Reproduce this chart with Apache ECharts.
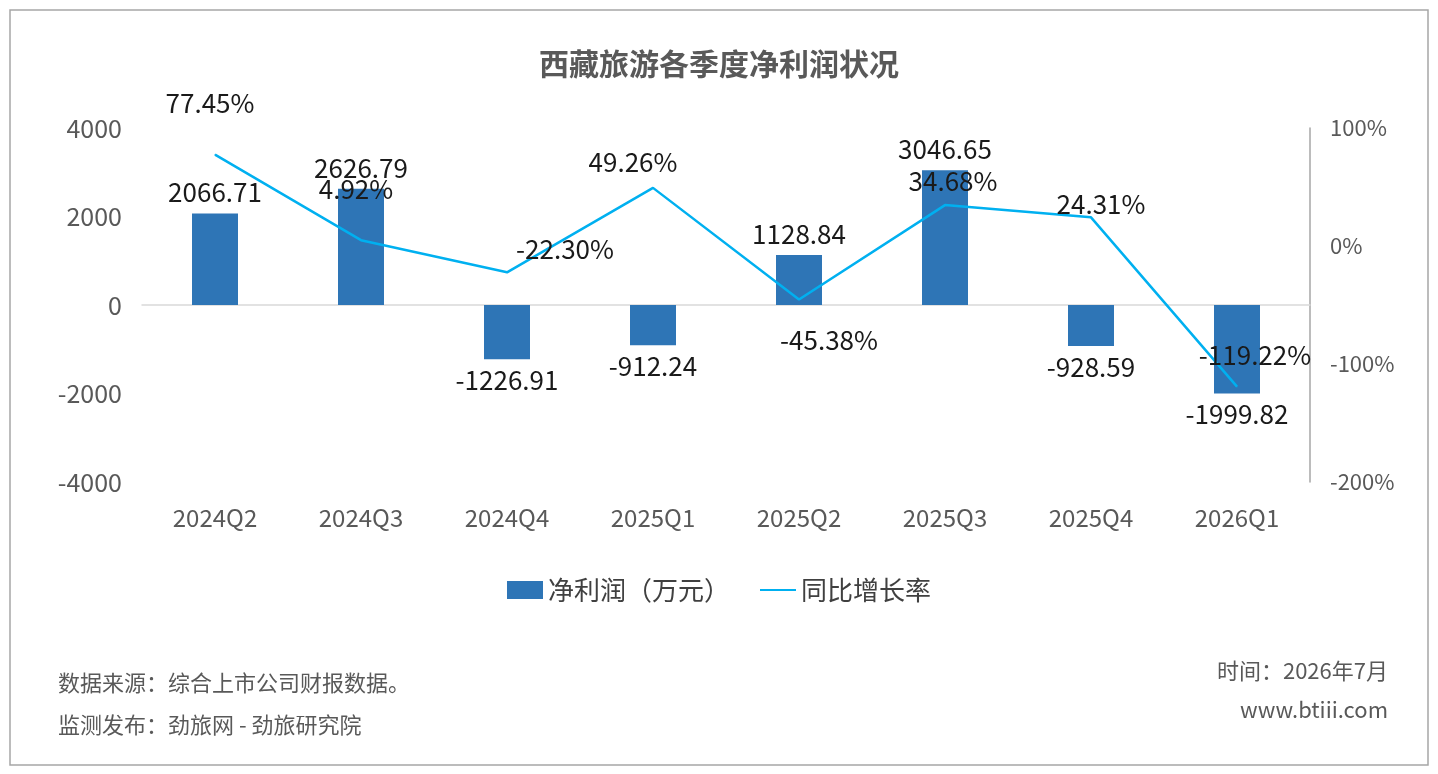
<!DOCTYPE html>
<html><head><meta charset="utf-8">
<script src="https://cdn.jsdelivr.net/npm/echarts@6/dist/echarts.min.js"></script>
<style>html,body{margin:0;padding:0;background:#fff}#c{width:1438px;height:774px}</style>
</head><body><div id="c"></div>
<script>
const categories=['2024Q2','2024Q3','2024Q4','2025Q1','2025Q2','2025Q3','2025Q4','2026Q1'];
const profit=[2066.71,2626.79,-1226.91,-912.24,1128.84,3046.65,-928.59,-1999.82];
const growth=[77.45,4.92,-22.30,49.26,-45.38,34.68,24.31,-119.22];
const lineLabelOffsets=[[-5,-38],[-5,-38],[58,-10],[-20,-12],[30,54],[8,-10],[10,-0],[18,-18]];
const F='"Noto Sans CJK SC","Noto Sans",sans-serif';
const chart=echarts.init(document.getElementById('c'));
chart.setOption({
  animation:false,
  textStyle:{fontFamily:F},
  title:{text:'西藏旅游各季度净利润状况',left:'center',top:44,textStyle:{fontSize:30,fontWeight:'bold',color:'#595959',fontFamily:F}},
  grid:{left:142,right:128,top:128,bottom:292},
  legend:{bottom:166,left:'center',itemWidth:36,itemHeight:18,itemGap:30,textStyle:{fontSize:26,color:'#404040'},
    data:[{name:'净利润（万元）',icon:'rect'},{name:'同比增长率',icon:'path://M0,8 L36,8 L36,10 L0,10 Z'}]},
  xAxis:{type:'category',data:categories,axisTick:{show:false},axisLine:{lineStyle:{color:'#d9d9d9',width:1.5}},
    axisLabel:{fontSize:24,color:'#595959',margin:24}},
  yAxis:[
    {type:'value',min:-4000,max:4000,interval:2000,splitLine:{show:false},axisLine:{show:false},axisTick:{show:false},
      axisLabel:{fontSize:25,color:'#595959',margin:20,formatter:v=>String(v)}},
    {type:'value',min:-200,max:100,interval:100,splitLine:{show:false},axisLine:{show:true,lineStyle:{color:'#a6a6a6',width:1.5}},axisTick:{show:false},
      axisLabel:{fontSize:22,color:'#595959',margin:20,formatter:'{value}%'}}
  ],
  series:[
    {name:'净利润（万元）',type:'bar',data:profit.map(v=>({value:v,label:{show:true,position:v<0?'bottom':'top'}})),barWidth:46,itemStyle:{color:'#2e75b6'},
      label:{show:true,fontSize:26,color:'#1a1a1a',formatter:p=>p.value.toFixed(2),distance:8}},
    {name:'同比增长率',type:'line',yAxisIndex:1,data:growth.map((v,i)=>({value:v,label:{show:true,offset:lineLabelOffsets[i]}})),
      symbol:'circle',symbolSize:1,showSymbol:true,lineStyle:{color:'#00b0f0',width:2.5},itemStyle:{color:'#00b0f0'},
      label:{show:true,position:'top',distance:0,fontSize:26,color:'#1a1a1a',formatter:p=>p.value.toFixed(2)+'%'}}
  ],
  graphic:[
    {type:'rect',shape:{x:10,y:10,width:1418,height:755},style:{fill:'none',stroke:'#a6a6a6',lineWidth:1.5},silent:true},
    {type:'text',left:58,top:672,style:{text:'数据来源：综合上市公司财报数据。',fontSize:22,fill:'#595959',fontFamily:F}},
    {type:'text',left:58,top:714,style:{text:'监测发布：劲旅网 - 劲旅研究院',fontSize:22,fill:'#595959',fontFamily:F}},
    {type:'text',right:50,top:660,style:{text:'时间：2026年7月',fontSize:22,fill:'#595959',fontFamily:F}},
    {type:'text',right:50,top:699,style:{text:'www.btiii.com',fontSize:22,fill:'#595959',fontFamily:F}}
  ]
});
</script></body></html>
